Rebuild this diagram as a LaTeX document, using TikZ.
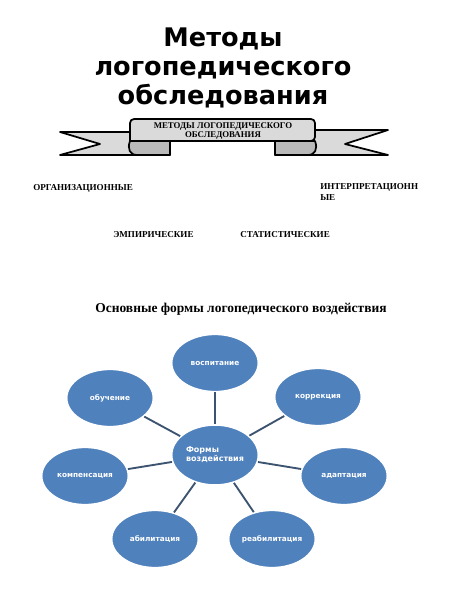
\documentclass[tikz,border=0pt]{standalone}
\usepackage{fontspec}
\setmainfont{Liberation Serif}
\newfontfamily\titlefont{DejaVu Sans}
\newfontfamily\blobfont{DejaVu Sans}
\usetikzlibrary{shapes.geometric}

\definecolor{blobblue}{RGB}{79,129,189}
\definecolor{linkblue}{RGB}{60,84,112}
\definecolor{ribbon}{RGB}{218,218,218}
\definecolor{ribbonfold}{RGB}{185,185,185}

\tikzset{
  blob/.style={ellipse,fill=blobblue,draw=white,line width=1.2pt,
    minimum width=65pt,minimum height=43pt,inner sep=0pt,
    text=white,font=\blobfont\bfseries\fontsize{5.5}{7}\selectfont},
  hub/.style={blob,minimum width=65pt,minimum height=45pt,align=left,
    font=\blobfont\bfseries\fontsize{6}{6.8}\selectfont},
  link/.style={draw=linkblue,line width=1.4pt},
  method/.style={inner sep=0pt,font=\bfseries\fontsize{6.8}{8.5}\selectfont},
  tail/.style={fill=ribbon,draw=black,line width=1.3pt,line join=round},
}

\begin{document}
\begin{tikzpicture}[x=0.75pt,y=0.75pt,yscale=-1,xscale=1]
\useasboundingbox[fill=white] (0,0) rectangle (450,600);

% title
\node (title) [align=center,font=\titlefont\bfseries\fontsize{19.2}{21.8}\selectfont] at (223,68)
  {Методы\\логопедического\\обследования};

% ribbon: tails, folds, front panel
\draw [tail] (60,132) -- (170,132) -- (170,155) -- (60,155) -- (100,144) -- cycle;
\draw [tail] (388,130) -- (275,130) -- (275,155) -- (388,155) -- (345,144) -- cycle;
\draw [tail,fill=ribbonfold] (130,141) .. controls (127,149) and (130,155) .. (137,155) -- (170,155) -- (170,141) -- cycle;
\draw [tail,fill=ribbonfold] (315,141) .. controls (318,149) and (315,155) .. (308,155) -- (275,155) -- (275,141) -- cycle;
\draw [tail,rounded corners=3pt] (130,141) -- (130,119) -- (315,119) -- (315,141) [sharp corners] -- cycle;
\node (banner) [align=center,font=\bfseries\fontsize{6.6}{7.2}\selectfont] at (223,131)
  {МЕТОДЫ ЛОГОПЕДИЧЕСКОГО\\ОБСЛЕДОВАНИЯ};

% kinds of methods
\node (org) [method,anchor=west] at (33,188) {ОРГАНИЗАЦИОННЫЕ};
\node (interp) [method,anchor=north west,align=left] at (320,183) {ИНТЕРПРЕТАЦИОНН\\ЫЕ};
\node (emp) [method,anchor=west] at (113,235) {ЭМПИРИЧЕСКИЕ};
\node (stat) [method,anchor=west] at (240,235) {СТАТИСТИЧЕСКИЕ};

% heading
\node (forms) [font=\bfseries\fontsize{10.1}{12}\selectfont] at (241,309)
  {Основные формы логопедического воздействия};

% star diagram
\node (hubnode) [hub] at (215,455) {Формы\\воздействия};
\node (vosp) [blob] at (215,363) {воспитание};
\node (obuch) [blob] at (110,398) {обучение};
\node (korr) [blob] at (318,397) {коррекция};
\node (komp) [blob] at (85,476) {компенсация};
\node (adapt) [blob] at (344,476) {адаптация};
\node (abil) [blob] at (155,539) {абилитация};
\node (reabil) [blob] at (272,539) {реабилитация};

\foreach \n in {vosp,obuch,korr,komp,adapt,abil,reabil}
  \draw [link] (hubnode) -- (\n);

\end{tikzpicture}
\end{document}
